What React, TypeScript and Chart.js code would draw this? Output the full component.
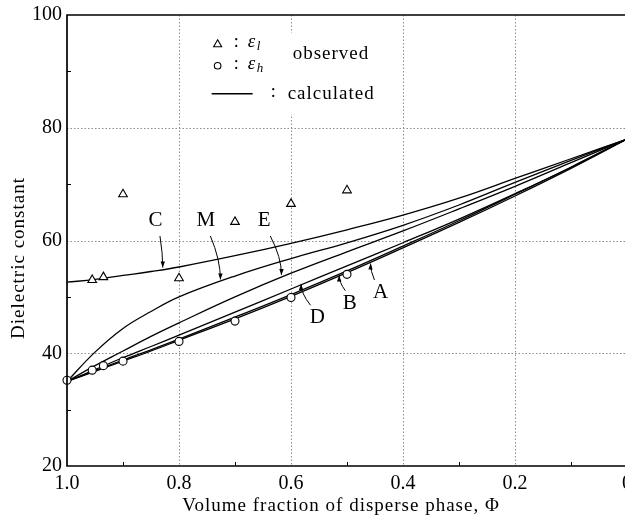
import React, { useEffect, useRef } from 'react';
import { Chart, registerables } from 'chart.js';

Chart.register(...registerables);

// ---- data ----
const phi = [1.0, 0.95, 0.9, 0.85, 0.8, 0.7, 0.6, 0.5, 0.4, 0.3, 0.2, 0.1, 0.0];
const curveA = [35, 36.8, 38.6, 40.4, 42.3, 46.1, 50.1, 54.3, 58.7, 63.2, 67.9, 72.8, 78];
const curveB = [35, 36.9, 38.8, 40.6, 42.5, 46.4, 50.4, 54.6, 59.0, 63.5, 68.2, 73.0, 78];
const curveD = [35, 37.1, 39.2, 41.2, 43.2, 47.3, 51.4, 55.5, 59.6, 63.8, 68.3, 73.0, 78];
const curveE = [35, 37.8, 40.4, 43.0, 45.4, 50.0, 54.2, 58.0, 61.7, 65.6, 69.6, 73.8, 78];
const curveM = [35, 40.2, 44.4, 47.4, 50.0, 53.7, 56.8, 59.6, 62.7, 66.3, 70.3, 74.2, 78];
const curveC = [52.6, 53.1, 53.8, 54.5, 55.3, 57.3, 59.5, 61.9, 64.5, 67.5, 71.0, 74.5, 78];

const triPhi = [0.955, 0.935, 0.9, 0.8, 0.7, 0.6, 0.5];
const triEps = [53.0, 53.5, 68.2, 53.3, 63.3, 66.5, 68.9];
const circPhi = [1.0, 0.955, 0.935, 0.9, 0.8, 0.7, 0.6, 0.5];
const circEps = [35.2, 37.0, 37.8, 38.6, 42.1, 45.7, 49.9, 54.0];

const xMajor = [0.8, 0.6, 0.4, 0.2];
const yMajor = [40, 60, 80];
const xMinor = [0.9, 0.7, 0.5, 0.3, 0.1];
const yMinor = [90, 70, 50, 30];

// curve labels with arrows (data coordinates)
const labelText = ['C', 'M', 'E', 'D', 'B', 'A'];
const labelPhi = [0.842, 0.752, 0.648, 0.553, 0.495, 0.44];
const labelEps = [63.6, 63.6, 63.6, 46.3, 48.9, 50.8];
const arrowStartPhi = [0.834, 0.744, 0.637, 0.565, 0.503, 0.451];
const arrowStartEps = [60.8, 60.8, 60.8, 48.5, 51.1, 53.0];
const arrowTipPhi = [0.829, 0.726, 0.617, 0.582, 0.514, 0.458];
const arrowTipEps = [55.2, 53.1, 53.9, 52.3, 53.8, 55.9];

const SERIF = '"Liberation Serif", "DejaVu Serif", "Times New Roman", serif';

const pts = (xs: number[], ys: number[]) => xs.map((x, i) => ({ x, y: ys[i] }));

const gridPlugin = {
  id: 'gridPlugin',
  beforeDatasetsDraw(chart: any) {
    const { ctx, chartArea: a, scales } = chart;
    const x = scales.x, y = scales.y;
    ctx.save();
    ctx.strokeStyle = '#8c8c8c';
    ctx.lineWidth = 1;
    ctx.setLineDash([1.5, 2]);
    xMajor.forEach((v) => {
      const p = Math.round(x.getPixelForValue(v)) + 0.5;
      ctx.beginPath(); ctx.moveTo(p, a.top); ctx.lineTo(p, a.bottom); ctx.stroke();
    });
    yMajor.forEach((v) => {
      const p = Math.round(y.getPixelForValue(v)) + 0.5;
      ctx.beginPath(); ctx.moveTo(a.left, p); ctx.lineTo(a.right, p); ctx.stroke();
    });
    ctx.restore();
  },
};

function drawArrow(ctx: CanvasRenderingContext2D, sx: number, sy: number, tx: number, ty: number) {
  const cx = tx;
  const cy = sy + (ty - sy) * 0.55;
  ctx.beginPath();
  ctx.moveTo(sx, sy);
  ctx.quadraticCurveTo(cx, cy, tx, ty);
  ctx.stroke();
  const ang = Math.atan2(ty - cy, tx - cx);
  const L = 6, W = 2.2;
  ctx.beginPath();
  ctx.moveTo(tx, ty);
  ctx.lineTo(tx - L * Math.cos(ang) + W * Math.sin(ang), ty - L * Math.sin(ang) - W * Math.cos(ang));
  ctx.lineTo(tx - L * Math.cos(ang) - W * Math.sin(ang), ty - L * Math.sin(ang) + W * Math.cos(ang));
  ctx.closePath();
  ctx.fill();
}

const annoPlugin = {
  id: 'annoPlugin',
  afterDraw(chart: any) {
    const { ctx, chartArea: a, scales } = chart;
    const x = scales.x, y = scales.y;
    const px = (v: number) => x.getPixelForValue(v);
    const py = (v: number) => y.getPixelForValue(v);
    ctx.save();
    ctx.setLineDash([]);
    ctx.strokeStyle = '#000';
    ctx.fillStyle = '#000';

    // frame: left, bottom, top
    ctx.lineWidth = 1.7;
    ctx.beginPath();
    ctx.moveTo(a.right + 20, a.top);
    ctx.lineTo(a.left, a.top);
    ctx.lineTo(a.left, a.bottom);
    ctx.lineTo(a.right + 20, a.bottom);
    ctx.stroke();

    // minor ticks
    ctx.lineWidth = 1;
    xMinor.forEach((v) => {
      const p = Math.round(px(v)) + 0.5;
      ctx.beginPath(); ctx.moveTo(p, a.bottom); ctx.lineTo(p, a.bottom - 4); ctx.stroke();
    });
    yMinor.forEach((v) => {
      const p = Math.round(py(v)) + 0.5;
      ctx.beginPath(); ctx.moveTo(a.left, p); ctx.lineTo(a.left + 4, p); ctx.stroke();
    });

    // legend box
    const bx0 = px(0.763), bx1 = px(0.43), by0 = py(96.8), by1 = py(82.4);
    ctx.fillStyle = '#fff';
    ctx.fillRect(bx0, by0, bx1 - bx0, by1 - by0);
    ctx.fillStyle = '#000';
    const ax = px(0.731), ay = py(94.9);
    // triangle
    ctx.lineWidth = 1.1;
    ctx.beginPath();
    ctx.moveTo(ax, ay - 4); ctx.lineTo(ax + 4, ay + 3); ctx.lineTo(ax - 4, ay + 3); ctx.closePath();
    ctx.stroke();
    // circle
    ctx.beginPath(); ctx.arc(ax, ay + 22, 3.3, 0, Math.PI * 2); ctx.stroke();
    // line
    ctx.lineWidth = 1.3;
    ctx.beginPath(); ctx.moveTo(ax - 6, ay + 50); ctx.lineTo(ax + 35, ay + 50); ctx.stroke();

    ctx.textBaseline = 'middle';
    ctx.textAlign = 'left';
    ctx.font = `18px ${SERIF}`;
    ctx.fillText(':', ax + 16, ay - 1);
    ctx.fillText(':', ax + 16, ay + 21);
    ctx.fillText(':', ax + 53, ay + 49);
    ctx.font = `italic 19px ${SERIF}`;
    ctx.fillText('ε', ax + 30, ay - 2);
    ctx.fillText('ε', ax + 30, ay + 20);
    ctx.font = `italic 13px ${SERIF}`;
    ctx.fillText('l', ax + 39, ay + 3);
    ctx.fillText('h', ax + 39, ay + 25);
    ctx.font = `19px ${SERIF}`;
    (ctx as any).letterSpacing = '1px';
    ctx.fillText('observed', ax + 75, ay + 10);
    ctx.fillText('calculated', ax + 70, ay + 50);

    // curve labels and arrows
    ctx.lineWidth = 1;
    (ctx as any).letterSpacing = '0px';
    ctx.font = `21px ${SERIF}`;
    ctx.textAlign = 'center';
    labelText.forEach((t, i) => {
      ctx.fillText(t, px(labelPhi[i]), py(labelEps[i]));
      drawArrow(ctx, px(arrowStartPhi[i]), py(arrowStartEps[i]), px(arrowTipPhi[i]), py(arrowTipEps[i]));
    });

    // axis titles
    ctx.font = `19px ${SERIF}`;
    (ctx as any).letterSpacing = '1px';
    ctx.textAlign = 'center';
    ctx.fillText('Volume fraction of disperse phase, Φ', 341, 506);
    ctx.save();
    ctx.translate(19, 258);
    ctx.rotate(-Math.PI / 2);
    ctx.fillText('Dielectric constant', 0, 0);
    ctx.restore();
    ctx.restore();
  },
};

export default function App() {
  const ref = useRef<HTMLCanvasElement | null>(null);
  useEffect(() => {
    document.documentElement.style.overflow = 'hidden';
    document.body.style.margin = '0';
    document.body.style.overflow = 'hidden';
    if (!ref.current) return;
    const curveStyle = {
      showLine: true,
      pointRadius: 0,
      borderColor: '#000',
      borderWidth: 1.3,
      tension: 0.4,
      fill: false,
    };
    const chart = new Chart(ref.current, {
      type: 'scatter',
      data: {
        datasets: [
          {
            label: 'triangles',
            data: pts(triPhi, triEps),
            pointStyle: 'triangle',
            pointRadius: 5,
            borderColor: '#000',
            backgroundColor: '#fff',
            borderWidth: 1.1,
            showLine: false,
            clip: false,
          } as any,
          {
            label: 'circles',
            data: pts(circPhi, circEps),
            pointStyle: 'circle',
            pointRadius: 4,
            borderColor: '#000',
            backgroundColor: '#fff',
            borderWidth: 1.1,
            showLine: false,
            clip: false,
          },
          { label: 'A', data: pts(phi, curveA), ...curveStyle },
          { label: 'B', data: pts(phi, curveB), ...curveStyle },
          { label: 'D', data: pts(phi, curveD), ...curveStyle },
          { label: 'E', data: pts(phi, curveE), ...curveStyle },
          { label: 'M', data: pts(phi, curveM), ...curveStyle },
          { label: 'C', data: pts(phi, curveC), ...curveStyle },
        ],
      },
      options: {
        responsive: false,
        animation: false,
        events: [],
        layout: { padding: { top: 15, right: 13, left: 0, bottom: 0 } },
        plugins: { legend: { display: false }, tooltip: { enabled: false } },
        scales: {
          x: {
            type: 'linear',
            reverse: true,
            min: 0,
            max: 1,
            ticks: {
              stepSize: 0.2,
              padding: 6,
              color: '#000',
              font: { family: SERIF, size: 20 },
              callback: (v: any) => (Math.abs(Number(v)) < 1e-9 ? '0' : Number(v).toFixed(1)),
            },
            grid: { display: false, drawTicks: false },
            border: { display: false },
            afterFit: (s: any) => {
              s.height = 51;
              s.paddingLeft = 0; s.paddingRight = 0;
            },
          },
          y: {
            type: 'linear',
            min: 20,
            max: 100,
            ticks: {
              stepSize: 20,
              padding: 5,
              color: '#000',
              font: { family: SERIF, size: 20 },
            },
            grid: { display: false, drawTicks: false },
            border: { display: false },
            afterFit: (s: any) => {
              s.width = 67;
              s.paddingTop = 0; s.paddingBottom = 0;
            },
          },
        },
      },
      plugins: [gridPlugin, annoPlugin],
    });
    return () => chart.destroy();
  }, []);
  return (
    <div style={{ width: 640, height: 517, overflow: 'hidden' }}>
      <canvas ref={ref} width={640} height={517} style={{ width: 640, height: 517, display: 'block' }} />
    </div>
  );
}
